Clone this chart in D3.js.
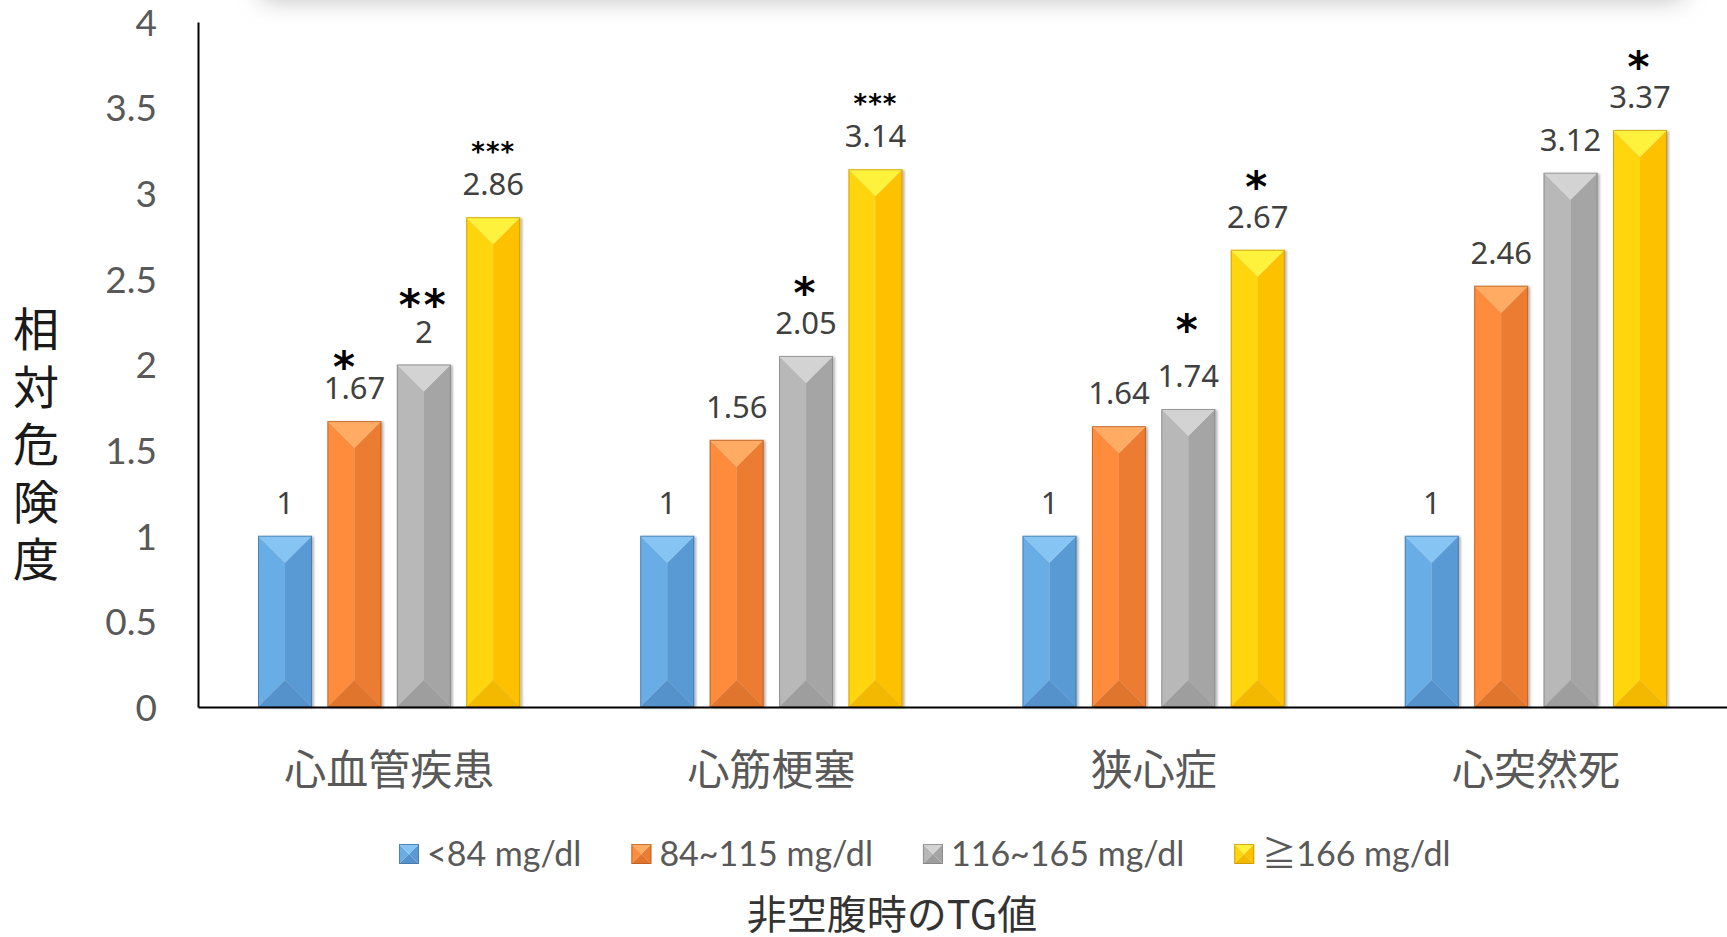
<!DOCTYPE html>
<html lang="ja">
<head>
<meta charset="utf-8">
<title>非空腹時のTG値と相対危険度</title>
<script src="https://cdn.jsdelivr.net/npm/d3@7/dist/d3.min.js"></script>
<style>
  html, body { margin: 0; padding: 0; background: #ffffff; overflow: hidden; }
  svg { display: block; }
</style>
</head>
<body>
<svg id="chart" width="1727" height="937"></svg>
<script>
// ---- data ----
const categories = ["心血管疾患", "心筋梗塞", "狭心症", "心突然死"];
const seriesNames = ["<84 mg/dl", "84~115 mg/dl", "116~165 mg/dl", "≧166 mg/dl"];
const riskUnder84 = [1, 1, 1, 1];
const risk84to115 = [1.67, 1.56, 1.64, 2.46];
const risk116to165 = [2, 2.05, 1.74, 3.12];
const risk166plus = [2.86, 3.14, 2.67, 3.37];
const sigUnder84 = ["", "", "", ""];
const sig84to115 = ["*", "", "", ""];
const sig116to165 = ["**", "*", "*", ""];
const sig166plus = ["***", "***", "*", "*"];
const yTickValues = [0, 0.5, 1, 1.5, 2, 2.5, 3, 3.5, 4];
const yTitle = "相対危険度";
const xTitle = "非空腹時のTG値";

const seriesValues = [riskUnder84, risk84to115, risk116to165, risk166plus];
const seriesSig = [sigUnder84, sig84to115, sig116to165, sig166plus];

// ---- bar face colours: top, left, right, bottom, edge ----
const palette = [
  { top: "#86c4f4", left: "#69ade7", right: "#5a9ad4", bottom: "#5592cb", edge: "#41719c" },
  { top: "#ffab64", left: "#ff8b3c", right: "#eb7c31", bottom: "#e0762e", edge: "#ae5a21" },
  { top: "#d3d3d3", left: "#b8b8b8", right: "#a5a5a5", bottom: "#9e9e9e", edge: "#7f7f7f" },
  { top: "#fff23c", left: "#ffd50c", right: "#fdc100", bottom: "#f2b900", edge: "#bf9000" }
];

// ---- layout ----
const W = 1727, H = 937;
const plot = { left: 198, right: 1727, top: 22, bottom: 707 };

const svg = d3.select("#chart");
const defs = svg.append("defs");

// soft shadow band along the top edge
const blur = defs.append("filter").attr("id", "topShadow")
  .attr("x", "-10%").attr("y", "-200%").attr("width", "120%").attr("height", "500%");
blur.append("feGaussianBlur").attr("stdDeviation", 13);
svg.append("rect")
  .attr("x", 262).attr("y", -50).attr("width", 1420).attr("height", 48)
  .attr("fill", "#7a7a7a").attr("opacity", 0.55)
  .attr("filter", "url(#topShadow)");

// faint drop shadow for bars
const drop = defs.append("filter").attr("id", "barShadow")
  .attr("x", "-20%").attr("y", "-5%").attr("width", "140%").attr("height", "110%");
drop.append("feDropShadow").attr("dx", 2).attr("dy", 1).attr("stdDeviation", 1.2)
  .attr("flood-color", "#000").attr("flood-opacity", 0.28);

// ---- scales ----
const x0 = d3.scaleBand()
  .domain(categories)
  .range([plot.left, plot.right])
  .paddingInner(0.314)
  .paddingOuter(0.157);

const x1 = d3.scaleBand()
  .domain(seriesNames)
  .range([0, x0.bandwidth()])
  .paddingInner(0.222)
  .paddingOuter(0);

const y = d3.scaleLinear().domain([0, 4]).range([plot.bottom, plot.top]);

// ---- axes ----
const yAxis = svg.append("g")
  .attr("transform", `translate(${plot.left},0)`)
  .call(d3.axisLeft(y).tickValues(yTickValues).tickFormat(d => String(d))
    .tickSizeInner(0).tickSizeOuter(0).tickPadding(41));
yAxis.select(".domain").attr("stroke", "#000").attr("stroke-width", 2);
yAxis.selectAll(".tick text")
  .attr("font-family", "Lato, 'Noto Sans', sans-serif")
  .attr("font-size", 37)
  .attr("fill", "#595959")
  .attr("dy", "0.36em");

// bevelled bar: four faces meeting along the centre line
function bevelFaces(g, x, yTop, w, h, colours) {
  const d = Math.min(w / 2, h / 2);
  const xl = x, xr = x + w, cx = x + w / 2, yb = yTop + h;
  const line = pts => "M" + pts.map(p => p.join(",")).join("L") + "Z";
  g.append("path").attr("d", line([[xl, yTop], [cx, yTop + d], [cx, yb - d], [xl, yb]]))
    .attr("fill", colours.left);
  g.append("path").attr("d", line([[xr, yTop], [xr, yb], [cx, yb - d], [cx, yTop + d]]))
    .attr("fill", colours.right);
  g.append("path").attr("d", line([[xl, yTop], [xr, yTop], [cx, yTop + d]]))
    .attr("fill", colours.top);
  g.append("path").attr("d", line([[xl, yb], [cx, yb - d], [xr, yb]]))
    .attr("fill", colours.bottom);
  g.append("rect").attr("x", xl + 0.5).attr("y", yTop + 0.5)
    .attr("width", Math.max(0, w - 1)).attr("height", Math.max(0, h - 1))
    .attr("fill", "none").attr("stroke", colours.edge).attr("stroke-width", 1)
    .attr("stroke-opacity", 0.7);
}

// ---- bars ----
const rows = [];
categories.forEach((cat, ci) => {
  seriesNames.forEach((s, si) => {
    rows.push({ cat, ci, s, si, value: seriesValues[si][ci], sig: seriesSig[si][ci] });
  });
});

const barLayer = svg.append("g");
barLayer.selectAll("g.bar")
  .data(rows)
  .join("g")
  .attr("class", "bar")
  .attr("filter", "url(#barShadow)")
  .each(function (d) {
    const bx = x0(d.cat) + x1(d.s);
    const top = y(d.value);
    bevelFaces(d3.select(this), bx, top, x1.bandwidth(), y(0) - top, palette[d.si]);
  });

// x axis drawn over the bar bases
const xAxis = svg.append("g")
  .attr("transform", `translate(0,${plot.bottom})`)
  .call(d3.axisBottom(x0).tickSizeInner(0).tickSizeOuter(0).tickPadding(0));
xAxis.select(".domain").attr("stroke", "#000").attr("stroke-width", 2);
xAxis.selectAll(".tick text")
  .attr("font-family", "'Noto Sans CJK JP', sans-serif")
  .attr("font-size", 42)
  .attr("fill", "#595959")
  .attr("y", 78)
  .attr("dy", 0);

// ---- value labels ----
const labelLayer = svg.append("g");
labelLayer.selectAll("text.value")
  .data(rows)
  .join("text")
  .attr("class", "value")
  .attr("x", d => x0(d.cat) + x1(d.s) + x1.bandwidth() / 2)
  .attr("y", d => y(d.value) - 22)
  .attr("text-anchor", "middle")
  .attr("font-family", "'Noto Sans', sans-serif")
  .attr("font-size", 31)
  .attr("fill", "#404040")
  .text(d => String(d.value));

// ---- significance marks ----
// vertical gap between the value label centre and the mark centre
const markLift = { "0-1": 30, "0-2": 35, "2-2": 55 };
const markShift = { "0-1": -9 };
labelLayer.selectAll("text.sig")
  .data(rows.filter(d => d.sig))
  .join("text")
  .attr("class", "sig")
  .each(function (d) {
    const key = d.ci + "-" + d.si;
    const fs = d.sig.length >= 3 ? 26 : 42;
    const labelCentre = y(d.value) - 33;
    const markCentre = labelCentre - (markLift[key] !== undefined ? markLift[key] : 38);
    d3.select(this)
      .attr("x", x0(d.cat) + x1(d.s) + x1.bandwidth() / 2 + (markShift[key] || 0))
      .attr("y", markCentre + 0.56 * fs)
      .attr("font-size", fs)
      .attr("letter-spacing", d.sig.length >= 3 ? 1 : 3);
  })
  .attr("text-anchor", "middle")
  .attr("font-family", "'DejaVu Sans', sans-serif")
  .attr("font-weight", "bold")
  .attr("fill", "#000")
  .text(d => d.sig);

// ---- y title (vertical, one character per line) ----
const yt = svg.append("text")
  .attr("font-family", "'Noto Sans CJK JP', sans-serif")
  .attr("font-size", 46)
  .attr("fill", "#1a1a1a")
  .attr("text-anchor", "middle");
Array.from(yTitle).forEach((ch, i) => {
  yt.append("tspan").attr("x", 36).attr("y", 346 + i * 57.5).text(ch);
});

// ---- legend ----
const legend = svg.append("g").attr("transform", "translate(399,844)");
let cursor = 0;
seriesNames.forEach((name, i) => {
  const item = legend.append("g").attr("transform", `translate(${cursor},0)`);
  bevelFaces(item, 0, 0, 20, 20, palette[i]);
  const t = item.append("text")
    .attr("x", 28).attr("y", 22)
    .attr("font-family", "Lato, 'Noto Sans CJK JP', sans-serif")
    .attr("font-size", 34)
    .attr("fill", "#595959")
    .text(name);
  cursor += 28 + t.node().getComputedTextLength() + 50;
});

// ---- x title ----
svg.append("text")
  .attr("x", 892).attr("y", 929)
  .attr("text-anchor", "middle")
  .attr("font-family", "'Noto Sans CJK JP', sans-serif")
  .attr("font-size", 40)
  .attr("fill", "#333333")
  .text(xTitle);
</script>
</body>
</html>
